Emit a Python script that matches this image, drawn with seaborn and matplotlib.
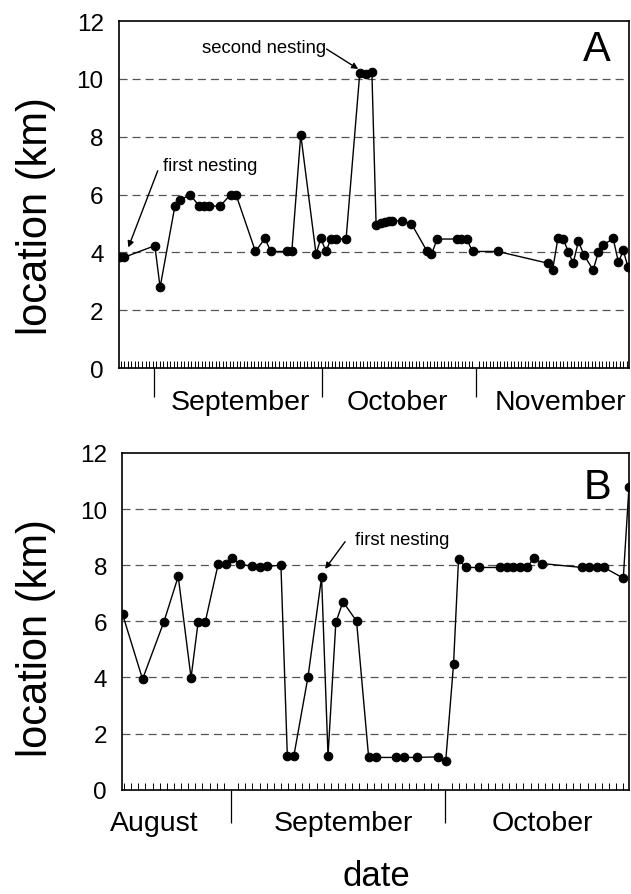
import matplotlib
matplotlib.use("Agg")
import matplotlib.pyplot as plt
from matplotlib.ticker import MultipleLocator, FixedLocator, NullFormatter
import seaborn as sns
import pandas as pd

# Panel A: days counted from 1 August (1 Aug = 0), location in km
a_day = [24.4, 25.3, 31.1, 32.1, 34.9, 35.9, 37.8, 39.5, 40.5, 41.4,
         43.5, 45.5, 46.5, 50.2, 52.0, 53.1, 56.1, 57.1, 58.8, 61.7,
         62.6, 63.6, 64.5, 65.4, 67.4, 70.0, 71.2, 72.3, 73.1, 74.0,
         74.8, 75.6, 76.2, 78.0, 79.8, 82.7, 83.6, 84.7, 88.4, 89.3,
         90.3, 91.4, 96.2, 105.8, 106.6, 107.6, 108.6, 109.6, 110.5, 111.5,
         112.5, 114.3, 115.3, 116.2, 118.1, 119.1, 120.0, 120.9]
a_km = [3.83, 3.83, 4.23, 2.79, 5.59, 5.80, 6.0, 5.6, 5.6, 5.6,
        5.6, 6.0, 6.0, 4.03, 4.48, 4.03, 4.03, 4.03, 8.07, 3.94,
        4.48, 4.03, 4.46, 4.46, 4.46, 10.2, 10.15, 10.22, 4.95, 5.01,
        5.06, 5.08, 5.1, 5.08, 4.99, 4.06, 3.93, 4.46, 4.46, 4.46,
        4.46, 4.03, 4.03, 3.62, 3.39, 4.48, 4.46, 4.02, 3.62, 4.39,
        3.92, 3.39, 4.02, 4.25, 4.48, 3.65, 4.07, 3.5]

# Panel B
b_day = [15.8, 18.6, 21.6, 23.6, 25.4, 26.4, 27.4, 29.2, 30.3, 31.2,
         32.2, 34.0, 35.0, 36.0, 38.0, 38.9, 39.8, 41.8, 43.7, 44.6,
         45.7, 46.7, 48.6, 50.3, 51.3, 54.2, 55.2, 57.1, 60.0, 61.1,
         62.2, 62.9, 63.9, 65.8, 68.7, 69.7, 70.6, 71.5, 72.5, 73.5,
         74.6, 80.2, 81.2, 82.3, 83.3, 86.0, 86.8]
b_km = [6.25, 3.94, 5.99, 7.60, 3.99, 5.99, 5.99, 8.04, 8.04, 8.24,
        8.04, 7.96, 7.92, 7.96, 8.0, 1.19, 1.19, 4.03, 7.57, 1.21,
        5.96, 6.70, 6.01, 1.15, 1.15, 1.15, 1.15, 1.15, 1.17, 1.01,
        4.47, 8.22, 7.92, 7.92, 7.92, 7.92, 7.92, 7.92, 7.92, 8.27,
        8.06, 7.92, 7.92, 7.92, 7.92, 7.54, 10.8]

a_month_names = ["September", "October", "November"]
a_month_label_day = [47.3, 77.2, 108.0]
a_month_ticks = [31, 62.8, 92]
b_month_names = ["August", "September", "October"]
b_month_label_day = [20.3, 46.7, 74.7]
b_month_ticks = [31, 61]
y_ticks = [0, 2, 4, 6, 8, 10, 12]

sns.set_style("white")
plt.rcParams["font.family"] = ["Liberation Sans", "DejaVu Sans"]
plt.rcParams["lines.scale_dashes"] = False
plt.rcParams["text.color"] = "black"
plt.rcParams["xtick.color"] = "black"
plt.rcParams["ytick.color"] = "black"
plt.rcParams["xtick.labelcolor"] = "black"
plt.rcParams["ytick.labelcolor"] = "black"

fig = plt.figure(figsize=(6.31, 8.95), dpi=100)
ax_a = fig.add_axes([119 / 631, 1 - 369 / 895, 510 / 631, 347 / 895])
ax_b = fig.add_axes([122.3 / 631, 1 - 790.7 / 895, 506.7 / 631, 336.7 / 895])


def draw_panel(ax, days, km, xlim, minor_step, month_ticks, month_days, month_names,
               letter, letter_y, major_len):
    df = pd.DataFrame({"day": days, "km": km})
    sns.lineplot(data=df, x="day", y="km", ax=ax, color="black", linewidth=1.0,
                 marker="o", markersize=6.2, markeredgecolor="black",
                 markerfacecolor="black", estimator=None, sort=False)
    ax.set_xlim(*xlim)
    ax.set_ylim(0, 12)
    ax.set_yticks(y_ticks)
    ax.set_yticklabels([str(v) for v in y_ticks])
    ax.tick_params(axis="y", left=False, length=0, pad=11, labelsize=17.5, labelcolor="black")
    for g in y_ticks[1:-1]:
        ax.axhline(g, color="#555555", linewidth=0.9, dashes=(5.8, 3.6), zorder=0)
    ax.xaxis.set_major_locator(FixedLocator(month_ticks))
    ax.xaxis.set_major_formatter(NullFormatter())
    ax.xaxis.set_minor_locator(MultipleLocator(minor_step))
    ax.xaxis.set_minor_formatter(NullFormatter())
    ax.tick_params(axis="x", which="major", bottom=True, direction="out", length=major_len,
                   width=0.9, color="black")
    ax.tick_params(axis="x", which="minor", bottom=True, direction="in", length=5,
                   width=0.7, color="black")
    for d, name in zip(month_days, month_names):
        ax.text(d, -0.098, name, transform=ax.get_xaxis_transform(), ha="center",
                va="center", fontsize=20.5, color="black")
    ax.text(0.937, letter_y, letter, transform=ax.transAxes, ha="center", va="center",
            fontsize=30, color="black")
    ax.set_xlabel("")
    ax.set_ylabel("")
    for s in ax.spines.values():
        s.set_color("black")
        s.set_linewidth(1.2)


draw_panel(ax_a, a_day, a_km, (24.3, 121.1), 2 / 3, a_month_ticks, a_month_label_day,
           a_month_names, "A", 0.919, 21)
draw_panel(ax_b, b_day, b_km, (15.76, 86.8), 1, b_month_ticks, b_month_label_day,
           b_month_names, "B", 0.899, 24)

arrow = dict(arrowstyle="-|>", color="black", lw=1.0, mutation_scale=9, shrinkA=0, shrinkB=0)

# nesting annotations
ax_a.text(32.7, 7.0, "first nesting", ha="left", va="center", fontsize=13.3)
ax_a.annotate("", xy=(26.07, 4.17), xytext=(31.65, 6.82), arrowprops=arrow)
ax_a.text(63.6, 11.1, "second nesting", ha="right", va="center", fontsize=13.3)
ax_a.annotate("", xy=(69.7, 10.34), xytext=(63.7, 11.03), arrowprops=arrow)
ax_b.text(48.4, 8.93, "first nesting", ha="left", va="center", fontsize=13.3)
ax_b.annotate("", xy=(44.2, 7.87), xytext=(47.0, 8.84), arrowprops=arrow)

fig.text(36 / 631, 1 - 216 / 895, "location (km)", rotation=90, ha="center", va="center",
         fontsize=30)
fig.text(36 / 631, 1 - 638 / 895, "location (km)", rotation=90, ha="center", va="center",
         fontsize=30)
fig.text(376 / 631, 1 - 877 / 895, "date", ha="center", va="center", fontsize=25)

fig.savefig("out.png", dpi=100)
